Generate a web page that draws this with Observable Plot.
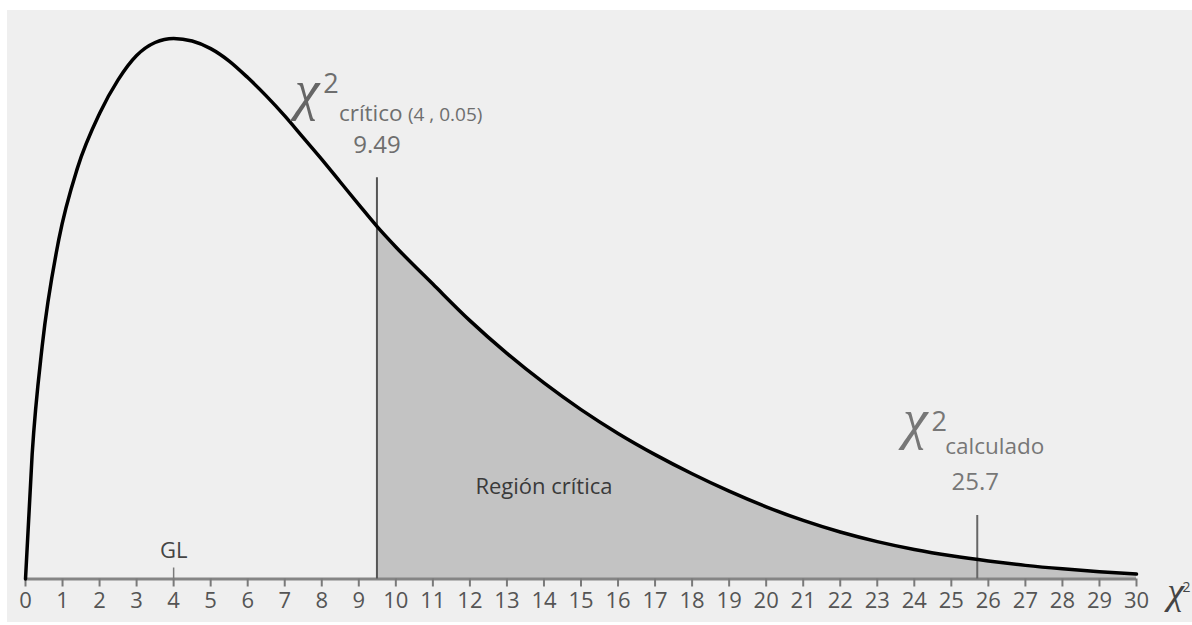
<!DOCTYPE html>
<html>
<head>
<meta charset="utf-8">
<script src="https://cdn.jsdelivr.net/npm/d3@7"></script>
<script src="https://cdn.jsdelivr.net/npm/@observablehq/plot@0.6"></script>
<style>
  html, body { margin: 0; padding: 0; background: #ffffff; overflow: hidden; }
  #chart { position: absolute; left: 7px; top: 10px; width: 1185px; height: 612px; background: #efefef; }
  #chart svg { background: #efefef; }
</style>
</head>
<body>
<div id="chart"></div>
<script>
// Curve values
const xValues = [0, 0.18, 0.45, 0.9, 1.4, 2, 2.5, 3, 3.5, 4, 4.5, 5, 5.5, 6, 6.5, 7, 7.5, 8, 8.5, 9, 9.49, 10,
  11, 12, 13, 14, 15, 16, 17, 18, 19, 20, 21, 22, 23, 24, 25, 26, 27, 28, 29, 30];
const densityValues = [0, 0.0431, 0.0802, 0.1171, 0.1416, 0.1605, 0.1721, 0.1805, 0.1850, 0.1864, 0.1855, 0.1829,
  0.1786, 0.1729, 0.1666, 0.1597, 0.1522, 0.1447, 0.1369, 0.1291, 0.1216, 0.1145,
  0.1017, 0.0891, 0.0778, 0.0676, 0.0584, 0.0502, 0.0429, 0.0363, 0.0303, 0.0249, 0.0202, 0.0162,
  0.0129, 0.0102, 0.0080, 0.0062, 0.0047, 0.0035, 0.0025, 0.0017];
const tickValues = d3.range(0, 31);
const criticalValue = 9.49;
const criticalRuleTop = 0.1384;
const calculatedValue = 25.7;
const calculatedRuleTop = 0.0219;
const glValue = 4;

const curve = xValues.map((x, i) => ({x, y: densityValues[i]}));
const region = curve.filter(d => d.x >= criticalValue);

const W = 1185, H = 612;
const mTop = 17.5, mBottom = 43.5;
const yMax = 0.19;
const unitsPerPx = yMax / (H - mTop - mBottom);

const txt = "Open Sans";
const grayText = "#6e6e6e";

const plot = Plot.plot({
  width: W,
  height: H,
  marginLeft: 18,
  marginRight: 1192 - 1136,
  marginTop: mTop,
  marginBottom: mBottom,
  style: {background: "#efefef", fontFamily: txt, overflow: "visible"},
  x: {domain: [0, 30]},
  y: {domain: [0, yMax], axis: null},
  marks: [
    Plot.areaY(region, {x: "x", y: "y", fill: "#c3c3c3", curve: "monotone-x"}),
    Plot.ruleY([0], {x1: 0, x2: 30, stroke: "#858585", strokeWidth: 3}),
    Plot.axisX({ticks: tickValues, tickFormat: d => String(d), tickSize: 8, tickPadding: 5,
      stroke: "#7a7a7a", strokeWidth: 2, fill: "#555", fontSize: 22, label: null}),
    Plot.ruleX([glValue], {y1: 0, y2: 11 * unitsPerPx, stroke: "#7a7a7a", strokeWidth: 1.5}),
    Plot.text([glValue], {x: d => d, y: 0, dy: -28, text: () => "GL", fontSize: 22, fill: "#444", fontFamily: txt}),
    Plot.ruleX([criticalValue], {y1: 0, y2: criticalRuleTop, stroke: "#555", strokeWidth: 2}),
    Plot.ruleX([calculatedValue], {y1: 0, y2: calculatedRuleTop, stroke: "#666", strokeWidth: 2}),
    Plot.line(curve, {x: "x", y: "y", stroke: "#000", strokeWidth: 3.5, curve: "monotone-x"}),
    Plot.text(["Región crítica"], {x: 14, y: 0, frameAnchor: "bottom", dy: -85, text: d => d,
      fontSize: 22, fill: "#3a3a3a", fontFamily: txt}),
    // critical annotation
    Plot.text([criticalValue], {x: d => d, y: criticalRuleTop, dy: -32, text: () => "9.49",
      fontSize: 24, fill: grayText, fontFamily: txt}),
    Plot.text([criticalValue], {x: d => d, y: criticalRuleTop, dx: -70, dy: -87, text: () => "χ",
      fontSize: 56, fontStyle: "italic", fill: "#666", fontFamily: "Liberation Serif"}),
    Plot.text([criticalValue], {x: d => d, y: criticalRuleTop, dx: -46, dy: -93, text: () => "2",
      fontSize: 27, fill: grayText, fontFamily: txt}),
    Plot.text([criticalValue], {x: d => d, y: criticalRuleTop, dx: -38, dy: -64, text: () => "crítico",
      textAnchor: "start", fontSize: 22.5, fill: grayText, fontFamily: txt}),
    Plot.text([criticalValue], {x: d => d, y: criticalRuleTop, dx: 31, dy: -62.5, text: () => "(4 , 0.05)",
      textAnchor: "start", fontSize: 19, fill: grayText, fontFamily: txt}),
    // calculated annotation
    Plot.text([calculatedValue], {x: d => d, y: calculatedRuleTop, dx: -2, dy: -33, text: () => "25.7",
      fontSize: 24, fill: "#777", fontFamily: txt}),
    Plot.text([calculatedValue], {x: d => d, y: calculatedRuleTop, dx: -62, dy: -95, text: () => "χ",
      fontSize: 56, fontStyle: "italic", fill: "#777", fontFamily: "Liberation Serif"}),
    Plot.text([calculatedValue], {x: d => d, y: calculatedRuleTop, dx: -38, dy: -93, text: () => "2",
      fontSize: 27, fill: "#777", fontFamily: txt}),
    Plot.text([calculatedValue], {x: d => d, y: calculatedRuleTop, dx: -32, dy: -69, text: () => "calculado",
      textAnchor: "start", fontSize: 22.5, fill: "#777", fontFamily: txt}),
    // axis label
    Plot.text([30], {x: d => d, y: 0, dx: 39, dy: 13, text: () => "χ",
      fontSize: 38, fontStyle: "italic", fill: "#444", fontFamily: "Liberation Serif"}),
    Plot.text([30], {x: d => d, y: 0, dx: 50, dy: 9, text: () => "2",
      fontSize: 14, fill: "#444", fontFamily: txt})
  ]
});
document.getElementById("chart").appendChild(plot);
</script>
</body>
</html>
